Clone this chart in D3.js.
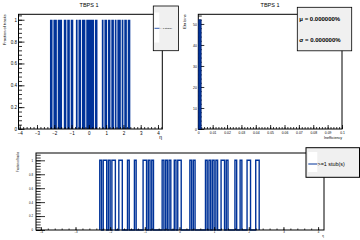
<!DOCTYPE html>
<html>
<head>
<meta charset="utf-8">
<script src="https://cdn.jsdelivr.net/npm/d3@7"></script>
<style>
  body { margin: 0; background: #fff; }
  text { font-family: "Liberation Sans", Arial, sans-serif; fill: #000; }
</style>
</head>
<body>
<svg width="360" height="240"></svg>
<script>

var blue = "#003399";

// fraction of tracks with >=1 stub, eta bins of 0.05
var topStart = -2.25, bottomStart = -2.3, etaStep = 0.05;
var fracTop = [1,1,1,0,1,1,1,1,0,1, 1,1,1,1,0,0,1,1,1,0, 1,1,1,0,1,1,1,0,0,0,
               1,1,0,1,1,1,0,1,1,1, 1,0,1,1,1,1,1,1,1,1, 1,0,1,1,1,0,0,0,0,0,
               1,1,0,1,1,1,0,1,1,1, 0,1,1,1,0,1,1,0,1,1, 1,1,0,1,1,0,1,1,1,0, 1,1,1];
var fracBottom = [1,0,1,1,0,1,0,1,1,0, 0,1,1,0,0,0,1,0,0,0, 1,0,0,0,0,1,1,0,1,0,
                  1,0,0,0,0,0,1,0,1,0, 1,0,0,1,0,1,1,0,0,0, 0,0,1,0,1,0,0,0,0,0,
                  0,1,0,1,0,1,0,1,0,0, 1,1,0,1,0,0,0,0,1,0, 0,1,0,0,0,1,1,0,0,0, 1,1];

// inefficiency histogram, bins of 0.002 from 0
var ineffStep = 0.002;
var ineffCounts = [52];

var etaTicks = [-4,-3,-2,-1,0,1,2,3,4];
var fracTicks = [0,0.2,0.4,0.6,0.8,1];
var ineffTicks = [0,0.01,0.02,0.03,0.04,0.05,0.06,0.07,0.08,0.09,0.1];
var countTicks = [0,10,20,30,40,50];

var svg = d3.select("svg");
svg.append("rect").attr("width",360).attr("height",240).attr("fill","#fff");

// draws ROOT-like axes with ticks pointing into the frame
function frameAxes(g, x, y, o) {
  var r = x.range(), b = y.range();
  g.append("g").attr("transform","translate(0,"+b[0]+")")
    .call(d3.axisBottom(x).tickValues(o.xMinor).tickSize(-o.xMin).tickFormat(""));
  g.append("g").attr("transform","translate(0,"+b[0]+")")
    .call(d3.axisBottom(x).tickValues(o.xTicks).tickSize(-o.xMaj).tickPadding(o.xPad).tickFormat(o.xFmt))
    .selectAll("text").style("font-size", o.fs+"px");
  g.append("g").attr("transform","translate("+r[0]+",0)")
    .call(d3.axisLeft(y).tickValues(o.yMinor).tickSize(-o.yMin).tickFormat(""));
  g.append("g").attr("transform","translate("+r[0]+",0)")
    .call(d3.axisLeft(y).tickValues(o.yTicks).tickSize(-o.yMaj).tickPadding(o.yPad).tickFormat(o.yFmt))
    .selectAll("text").style("font-size", o.fs+"px");
  g.selectAll(".domain").remove();
  g.selectAll(".tick line").attr("stroke","#000").attr("stroke-width",0.8);
  g.append("rect").attr("x",r[0]).attr("y",b[1]).attr("width",r[1]-r[0]).attr("height",b[0]-b[1])
    .attr("fill","none").attr("stroke","#000").attr("stroke-width",1);
}

function minor(lo, hi, step) {
  var out = [];
  for (var v = lo; v <= hi + 1e-9; v += step) out.push(+v.toFixed(6));
  return out;
}

// step points (bin edges) for a histogram
function stepPoints(vals, start) {
  var pts = [[start, 0]];
  vals.forEach(function(v, i) {
    pts.push([start + i*etaStep, v]);
    pts.push([start + (i+1)*etaStep, v]);
  });
  pts.push([start + vals.length*etaStep, 0]);
  return pts;
}

var fmtMinus = function(d) { return String(d).replace("-", "\u2212"); };

// ---------- top left ----------
var x1 = d3.scaleLinear().domain([-4.07, 4.25]).range([18.5, 162.3]);
var y1 = d3.scaleLinear().domain([0, 1.05]).range([129, 14.3]);
var g1 = svg.append("g");
g1.append("path")
  .attr("d", d3.area().x(function(d){ return x1(d[0]); }).y0(y1(0)).y1(function(d){ return y1(d[1]); })(stepPoints(fracTop, topStart)))
  .attr("fill", blue);
frameAxes(g1, x1, y1, {
  xTicks: etaTicks, xMinor: minor(-4, 4.2, 0.2), xMaj: 4, xMin: 2, xPad: 2.5, xFmt: fmtMinus,
  yTicks: fracTicks, yMinor: minor(0, 1.04, 0.04), yMaj: 6, yMin: 3.5, yPad: 1.5, yFmt: d3.format("~g"),
  fs: 4.5
});
svg.append("text").attr("x", 89).attr("y", 6.5).attr("text-anchor","middle").style("font-size","5.5px").text("TBPS 1");
svg.append("text").attr("transform","translate(6,14.3) rotate(-90)").attr("text-anchor","end")
  .style("font-size","4px").text("Fraction of tracks");
svg.append("text").attr("x", 162).attr("y", 138.5).attr("text-anchor","end").style("font-size","5px").text("\u03b7");

// legend top left
var lg1 = svg.append("g");
lg1.append("rect").attr("x",153.3).attr("y",6).attr("width",25.2).attr("height",44.7)
  .attr("fill","#f0f0f0").attr("stroke","#000").attr("stroke-width",0.8);
lg1.append("rect").attr("x",154.3).attr("y",12.5).attr("width",5).attr("height",30).attr("fill","#fff");
lg1.append("line").attr("x1",154.5).attr("x2",159.5).attr("y1",28.3).attr("y2",28.3).attr("stroke",blue).attr("stroke-width",0.8);
lg1.append("text").attr("x",160).attr("y",29.2).style("font-size","2.4px").text(">=1 stub(s)");

// ---------- top right ----------
var x2 = d3.scaleLinear().domain([0, 0.1]).range([198.3, 342]);
var y2 = d3.scaleLinear().domain([0, 54.6]).range([129, 14.3]);
var g2 = svg.append("g");
frameAxes(g2, x2, y2, {
  xTicks: ineffTicks, xMinor: minor(0, 0.1, 0.002), xMaj: 4, xMin: 2, xPad: 2.2, xFmt: d3.format("~g"),
  yTicks: countTicks, yMinor: minor(0, 54, 2), yMaj: 6, yMin: 3.5, yPad: 1.5, yFmt: d3.format("~g"),
  fs: 3.4
});
g2.selectAll("rect.bar").data(ineffCounts).enter().append("rect")
  .attr("x", function(d,i){ return x2(i*ineffStep); })
  .attr("width", x2(ineffStep) - x2(0))
  .attr("y", function(d){ return y2(d); })
  .attr("height", function(d){ return y2(0) - y2(d); })
  .attr("fill", blue).attr("stroke","#001a66").attr("stroke-width",0.6);
svg.append("text").attr("x", 270).attr("y", 6.5).attr("text-anchor","middle").style("font-size","5.5px").text("TBPS 1");
svg.append("text").attr("transform","translate(186,14.3) rotate(-90)").attr("text-anchor","end")
  .style("font-size","4px").text("Eta bins");
svg.append("text").attr("x", 342).attr("y", 138.8).attr("text-anchor","end").style("font-size","3.6px").text("Inefficiency");

// stats box
var sb = svg.append("g");
sb.append("rect").attr("x",297.3).attr("y",7.3).attr("width",54.4).attr("height",43.5)
  .attr("fill","#f0f0f0").attr("stroke","#000").attr("stroke-width",0.8);
sb.append("text").attr("x",299.3).attr("y",21).style("font-size","6px").style("font-weight","bold").text("\u03bc = 0.000000%");
sb.append("text").attr("x",299.3).attr("y",42).style("font-size","6px").style("font-weight","bold").text("\u03c3 = 0.000000%");

// ---------- bottom ----------
var x3 = d3.scaleLinear().domain([-4.14, 4.17]).range([36, 324]);
var y3 = d3.scaleLinear().domain([0, 1.105]).range([230, 153]);
var g3 = svg.append("g");
g3.append("path")
  .attr("d", d3.line().x(function(d){ return x3(d[0]); }).y(function(d){ return y3(d[1]); })(stepPoints(fracBottom, bottomStart)))
  .attr("fill","none").attr("stroke",blue).attr("stroke-width",1.4);
frameAxes(g3, x3, y3, {
  xTicks: etaTicks, xMinor: minor(-4, 4, 0.2), xMaj: 3, xMin: 1.5, xPad: 1.5, xFmt: fmtMinus,
  yTicks: fracTicks, yMinor: minor(0, 1.08, 0.04), yMaj: 9, yMin: 4.7, yPad: 3, yFmt: d3.format("~g"),
  fs: 2.8
});
svg.append("text").attr("transform","translate(18.5,152) rotate(-90)").attr("text-anchor","end")
  .style("font-size","2.6px").text("Fraction of tracks");
svg.append("text").attr("x", 324).attr("y", 236.5).attr("text-anchor","end").style("font-size","3px").text("\u03b7");

// legend bottom
var lg3 = svg.append("g");
lg3.append("rect").attr("x",306).attr("y",147.7).attr("width",53.5).attr("height",29.6)
  .attr("fill","#f0f0f0").attr("stroke","#000").attr("stroke-width",1);
lg3.append("rect").attr("x",308).attr("y",152).attr("width",9.3).attr("height",20).attr("fill","#fff");
lg3.append("line").attr("x1",308.3).attr("x2",317.3).attr("y1",164).attr("y2",164).attr("stroke",blue).attr("stroke-width",1);
lg3.append("text").attr("x",317.5).attr("y",166).style("font-size","5.4px").text(">=1 stub(s)");

</script>
</body>
</html>
